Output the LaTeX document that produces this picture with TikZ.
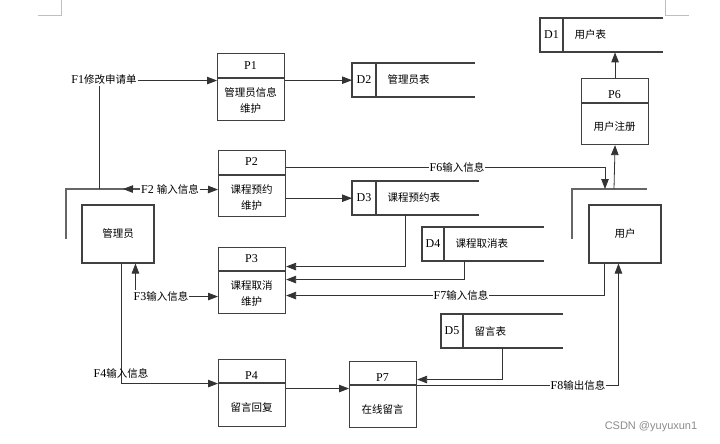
\documentclass[tikz,border=0pt]{standalone}
\usepackage{fontspec}
\setmainfont{Liberation Serif}
\newfontfamily\cjk{Noto Sans CJK SC}
\newfontfamily\wmfont{Liberation Sans}
\usetikzlibrary{arrows.meta,calc}
\newcommand\zh[1]{{\cjk\fontsize{10.5pt}{16pt}\selectfont #1}}
% name, x1, y1, x2, y2, ydiv, yheader, ybody, body
\newcommand\procbox[9]{%
  \node[procbox, anchor=north west, minimum width={(#4-#2)*1pt}, minimum height={(#5-#3)*1pt}] (#1) at (#2,#3) {};
  \draw[boxline] (#2,#6) -- (#4,#6);
  \node (#1-h) at ({(#2+#4)/2},#7) {#1};
  \node[align=center] (#1-b) at ({(#2+#4)/2},#8) {#9};
}
% name, xleft, xdiv, xright, ytop, ybottom, id, text
\newcommand\dstore[8]{%
  \node[inner sep=0, anchor=north west, minimum width={(#4-#2)*1pt}, minimum height={(#6-#5)*1pt}] (#1) at (#2,#5) {};
  \draw[boxline] (#4,#5) -- (#2,#5) -- (#2,#6) -- (#4,#6);
  \draw[boxline] (#3,#5) -- (#3,#6);
  \node (#1-id) at ({(#2+#3)/2},{(#5+#6)/2}) {#7};
  \node[anchor=west] (#1-t) at ({#3+8},{(#5+#6)/2}) {\zh{#8}};
}
\begin{document}
\begin{tikzpicture}[x=1pt,y=-1pt, font=\fontsize{12pt}{16pt}\selectfont,
  boxline/.style={draw=black!75, line width=1.1pt},
  procbox/.style={boxline, inner sep=0},
  conn/.style={draw=black!80, line width=0.8pt},
  arr/.style={conn, -{Triangle[length=10pt,width=7.5pt]}},
  arrs/.style={conn, {Triangle[length=10pt,width=7.5pt]}-{Triangle[length=10pt,width=7.5pt]}},
  lbl/.style={fill=white, inner sep=1pt},
  shadowl/.style={draw=black!60, line width=1.1pt}]
\useasboundingbox (0,0) rectangle (720,444);
\fill[white] (0,0) rectangle (720,444);
% page corner marks
\draw[black!25, line width=0.8pt] (38,15) -- (61,15) -- (61,0);
\draw[black!25, line width=0.8pt] (665,0) -- (665,15) -- (689,15);

% processes
\procbox{P1}{217}{53}{284}{120}{78}{66}{100}{\zh{管理员信息}\\\zh{维护}}
\procbox{P2}{218}{150}{285}{216}{175}{162}{198}{\zh{课程预约}\\\zh{维护}}
\procbox{P3}{218}{247}{285}{313}{271}{259}{294}{\zh{课程取消}\\\zh{维护}}
\procbox{P4}{218}{359}{285}{426}{383}{376}{407}{\zh{留言回复}}
\procbox{P7}{349}{361}{416}{427}{385}{378}{409}{\zh{在线留言}}
\procbox{P6}{581}{78}{648}{144}{103}{95}{127}{\zh{用户注册}}

% data stores
\dstore{D1}{540}{563}{663}{18}{52}{D1}{用户表}
\dstore{D2}{352}{376}{475}{63}{97}{D2}{管理员表}
\dstore{D3}{352}{376}{479}{181}{215}{D3}{课程预约表}
\dstore{D4}{422}{444}{544}{227}{261}{D4}{课程取消表}
\dstore{D5}{441}{463}{563}{314}{348}{D5}{留言表}

% external entities
\node[procbox, minimum width=72pt, minimum height=58pt] (admin) at (118,234) {\zh{管理员}};
\draw[shadowl] (66,239) -- (66,189) -- (140,189);
\coordinate (aF1) at (99,189);
\coordinate (aF2) at (123,189);
\node[procbox, minimum width=72pt, minimum height=58pt] (user) at (625,234) {\zh{用户}};
\draw[shadowl] (572,239) -- (572,189) -- (647,189);
\coordinate (uF6) at (605,189);
\coordinate (uP6) at (614,189);

% connectors
\draw[arr] (aF1) |- ([yshift=6.5pt]P1.west);
\node[lbl] (f1) at (104,80) {F1\zh{修改申请单}};

\draw[arrs] (aF2) -- ([yshift=-6pt]P2.west);
\node[lbl] (f2) at (170,189) {F2 \zh{输入信息}};

\draw[arr] (P1.east |- D2.west) -- (D2.west);
\draw[arr] (P2.east |- D3.west) -- (D3.west);

\draw[arr] ([yshift=16pt]P2.east) -| (uF6);
\node[lbl] (f6) at (457,167) {F6\zh{输入信息}};

\draw[arr] (uP6) -- (P6.south);
\draw[arr] (P6.north) -- (P6.north |- D1.south);

\draw[arr] ([xshift=53pt]D3.south west) |- ([yshift=14pt]P3.east);
\draw[arr] ([xshift=42pt]D4.south west) |- ([yshift=1pt]P3.east);
\draw[arr] ([xshift=16pt]user.south west) |- ([yshift=-15pt]P3.east);
\node[lbl] (f7) at (461,295) {F7\zh{输入信息}};

\draw[arrs] ([xshift=54pt]admin.south west) |- ([yshift=-16pt]P3.west);
\node[lbl] (f3) at (161,296) {F3\zh{输入信息}};

\draw[arr] ([xshift=40pt]admin.south west) |- ([yshift=9.5pt]P4.west);
\node (f4) at (121,373) {F4\zh{输入信息}};

\draw[arr] ([yshift=4.5pt]P4.east) -- ([yshift=6pt]P7.west);
\draw[arr] ([xshift=61pt]D5.south west) |- ([yshift=15pt]P7.east);
\draw[arr] ([yshift=9pt]P7.east) -| ([xshift=30pt]user.south west);
\node[lbl] (f8) at (578,385) {F8\zh{输出信息}};

% watermark
\node[text=black!45, font=\wmfont\fontsize{11pt}{13pt}\selectfont] (wm) at (651,427) {CSDN @yuyuxun1};
\end{tikzpicture}
\end{document}
